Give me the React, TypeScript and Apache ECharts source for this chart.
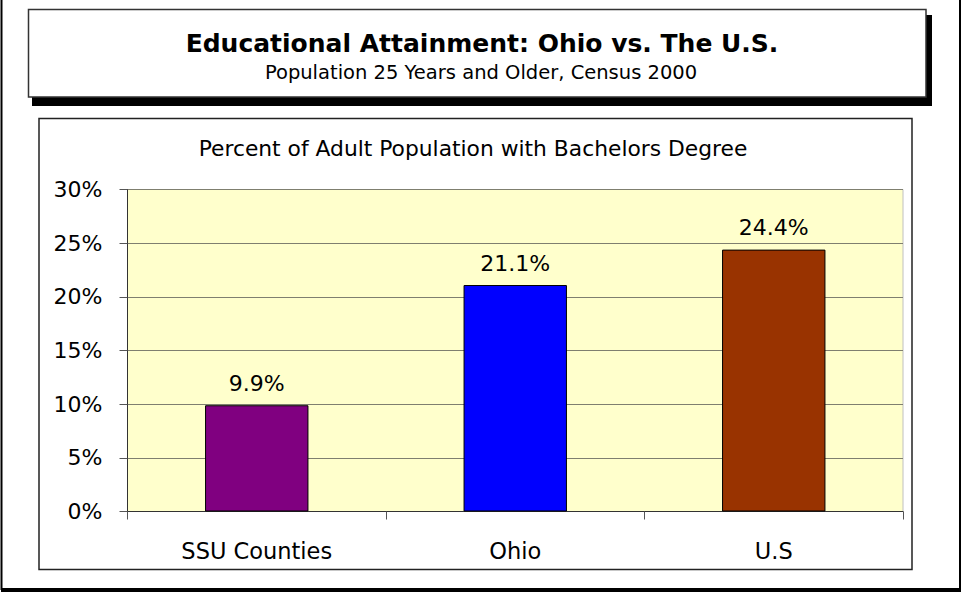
import React, { useEffect, useRef } from "react";
import * as echarts from "echarts";

const categories = ["SSU Counties", "Ohio", "U.S"];
const values = [9.9, 21.1, 24.4];
const barColors = ["#800080", "#0000FF", "#993300"];
const yTicks = { min: 0, max: 30, interval: 5 };
const mainTitle = "Educational Attainment: Ohio vs. The U.S.";
const subTitle = "Population 25 Years and Older, Census 2000";
const chartTitle = "Percent of Adult Population with Bachelors Degree";

const FONT = "DejaVu Sans";

export default function App() {
  const ref = useRef<HTMLDivElement>(null);
  useEffect(() => {
    if (!ref.current) return;
    const chart = echarts.init(ref.current, null, { renderer: "svg" });
    chart.setOption({
      animation: false,
      backgroundColor: "#ffffff",
      title: [
        {
          text: mainTitle,
          left: 482,
          top: 43,
          textAlign: "center",
          textVerticalAlign: "middle",
          padding: 0,
          textStyle: { fontFamily: FONT, fontSize: 25, fontWeight: "bold", color: "#000" },
        },
        {
          text: subTitle,
          left: 481,
          top: 72,
          textAlign: "center",
          textVerticalAlign: "middle",
          padding: 0,
          textStyle: { fontFamily: FONT, fontSize: 19.5, fontWeight: "normal", color: "#000" },
        },
        {
          text: chartTitle,
          left: 473,
          top: 148,
          textAlign: "center",
          textVerticalAlign: "middle",
          padding: 0,
          textStyle: { fontFamily: FONT, fontSize: 21.8, fontWeight: "normal", color: "#000" },
        },
      ],
      graphic: [
        {
          type: "rect",
          z: -1,
          shape: { x: 1.5, y: -3, width: 958.5, height: 592 },
          style: { fill: "none", stroke: "#000", lineWidth: 2 },
        },
        {
          type: "line",
          z: -1,
          shape: { x1: 1, y1: 590.5, x2: 961, y2: 590.5 },
          style: { stroke: "#000", lineWidth: 3 },
        },
        {
          type: "rect",
          z: -1,
          shape: { x: 32, y: 15, width: 900, height: 91 },
          style: { fill: "#000", stroke: "none" },
        },
        {
          type: "rect",
          z: -1,
          shape: { x: 28.5, y: 9.5, width: 897.5, height: 87.5 },
          style: { fill: "#fff", stroke: "#333", lineWidth: 1.5 },
        },
        {
          type: "rect",
          z: -1,
          shape: { x: 39, y: 118.5, width: 873, height: 451 },
          style: { fill: "none", stroke: "#222", lineWidth: 1.5 },
        },
      ],
      grid: {
        left: 127.5,
        right: 60,
        top: 189.5,
        bottom: 81.5,
        show: true,
        backgroundColor: "#FFFFCC",
        borderColor: "#C0C0C0",
        borderWidth: 1,
        containLabel: false,
      },
      xAxis: {
        type: "category",
        data: categories,
        boundaryGap: true,
        axisLine: { show: true, lineStyle: { color: "#333", width: 1 } },
        axisTick: { show: true, inside: false, length: 8, interval: 0, lineStyle: { color: "#555" } },
        axisLabel: {
          interval: 0,
          margin: 28,
          fontFamily: FONT,
          fontSize: 22.5,
          color: "#000",
        },
        splitLine: { show: false },
      },
      yAxis: {
        type: "value",
        min: yTicks.min,
        max: yTicks.max,
        interval: yTicks.interval,
        axisLine: { show: true, lineStyle: { color: "#333", width: 1 } },
        axisTick: { show: true, inside: false, length: 8, lineStyle: { color: "#555" } },
        axisLabel: {
          formatter: "{value}%",
          margin: 25,
          fontFamily: FONT,
          fontSize: 22,
          color: "#000",
        },
        splitLine: { show: true, lineStyle: { color: "#7f7f6f", width: 1 } },
      },
      series: [
        {
          type: "bar",
          data: values.map((v, i) => ({
            value: v,
            itemStyle: { color: barColors[i], borderColor: "#000", borderWidth: 1 },
          })),
          barWidth: "40%",
          label: {
            show: true,
            position: "top",
            distance: 11,
            formatter: "{c}%",
            fontFamily: FONT,
            fontSize: 22,
            color: "#000",
          },
        },
      ],
    });
    return () => chart.dispose();
  }, []);
  return (
    <div
      ref={ref}
      style={{ position: "fixed", left: 0, top: 0, width: 963, height: 593 }}
    />
  );
}
